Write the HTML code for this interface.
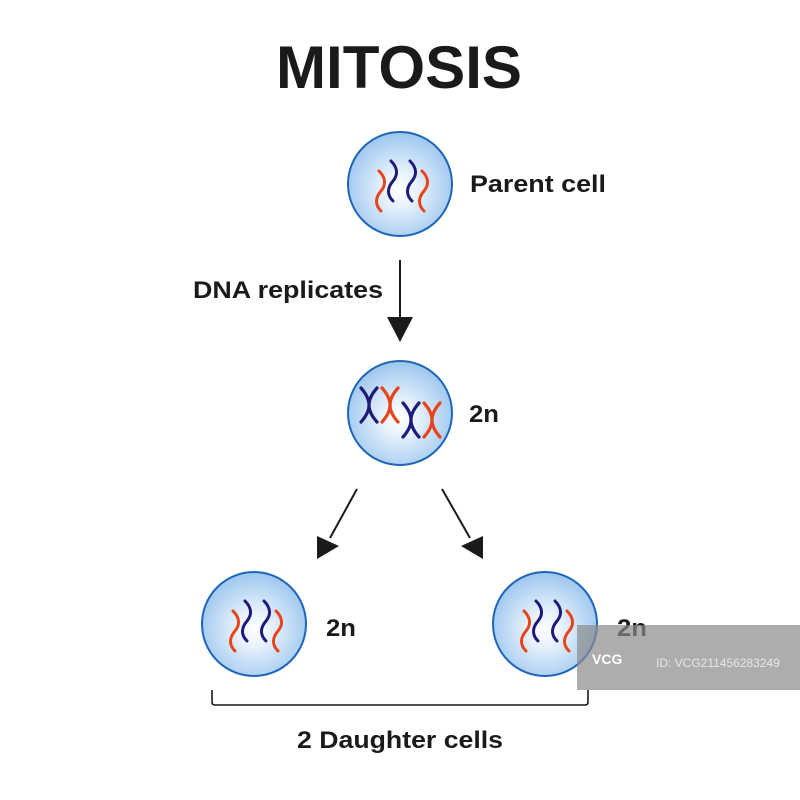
<!DOCTYPE html>
<html><head><meta charset="utf-8"><style>body{margin:0;background:#fff}svg{display:block}text{font-family:"Liberation Sans",sans-serif;font-weight:bold;fill:#1a1a1a}</style></head><body>
<svg width="800" height="800" viewBox="0 0 800 800">
<defs>
<radialGradient id="g" cx="50%" cy="55%" r="55%"><stop offset="0" stop-color="#ffffff"/><stop offset="0.3" stop-color="#e8f2fc"/><stop offset="1" stop-color="#9cc6ef"/></radialGradient>
<path id="s" d="M0,-20 C7,-13 7,-6 2,0 C-4,7 -4,14 2,20" fill="none" stroke-width="3" stroke-linecap="round"/>
<path id="x" d="M-8,-17 Q0,-8 0,0 Q0,8 -8,17 M8,-17 Q0,-8 0,0 Q0,8 8,17" fill="none" stroke-width="3.2" stroke-linecap="round"/>
<g id="chr">
<use href="#s" x="-21" y="7" stroke="#e8441a"/>
<use href="#s" x="-9" y="-3" stroke="#1d1a7a"/>
<use href="#s" x="10" y="-3" stroke="#1d1a7a"/>
<use href="#s" x="22" y="7" stroke="#e8441a"/>
</g>
</defs>
<text x="276" y="88" font-size="60" textLength="246" lengthAdjust="spacingAndGlyphs">MITOSIS</text>

<circle cx="400" cy="184" r="52" fill="url(#g)" stroke="#1f66b8" stroke-width="2"/>
<use href="#chr" x="400" y="184"/>
<text x="470" y="192" font-size="24" textLength="136" lengthAdjust="spacingAndGlyphs">Parent cell</text>

<line x1="400" y1="260" x2="400" y2="320" stroke="#1a1a1a" stroke-width="2"/>
<polygon points="387,317 413,317 400,342" fill="#1a1a1a"/>
<text x="193" y="298" font-size="24" textLength="190" lengthAdjust="spacingAndGlyphs">DNA replicates</text>

<circle cx="400" cy="413" r="52" fill="url(#g)" stroke="#1f66b8" stroke-width="2"/>
<use href="#x" x="369" y="405" stroke="#1d1a7a"/>
<use href="#x" x="390" y="405" stroke="#e8441a"/>
<use href="#x" x="411" y="420" stroke="#1d1a7a"/>
<use href="#x" x="432" y="420" stroke="#e8441a"/>
<text x="469" y="422" font-size="24" textLength="30" lengthAdjust="spacingAndGlyphs">2n</text>

<line x1="357" y1="489" x2="330" y2="538" stroke="#1a1a1a" stroke-width="2"/>
<polygon points="317,559 317,536 339,546" fill="#1a1a1a"/>
<line x1="442" y1="489" x2="470" y2="538" stroke="#1a1a1a" stroke-width="2"/>
<polygon points="483,559 483,536 461,546" fill="#1a1a1a"/>

<circle cx="254" cy="624" r="52" fill="url(#g)" stroke="#1f66b8" stroke-width="2"/>
<use href="#chr" x="254" y="624"/>
<text x="326" y="636" font-size="24" textLength="30" lengthAdjust="spacingAndGlyphs">2n</text>

<circle cx="545" cy="624" r="52" fill="url(#g)" stroke="#1f66b8" stroke-width="2"/>
<use href="#chr" x="545" y="624"/>
<text x="617" y="636" font-size="24" textLength="30" lengthAdjust="spacingAndGlyphs">2n</text>

<path d="M212,690 V702 Q212,705 215,705 H585 Q588,705 588,702 V690" fill="none" stroke="#1a1a1a" stroke-width="1.6"/>
<text x="297" y="748" font-size="24" textLength="206" lengthAdjust="spacingAndGlyphs">2 Daughter cells</text>

<rect x="577" y="625" width="223" height="65" fill="#8a8a8a" opacity="0.7"/>
<text x="592" y="664" font-size="14" style="fill:#fff">VCG</text>
<text x="656" y="667" font-size="12" style="fill:#e8e8e8;font-weight:normal">ID: VCG211456283249</text>
</svg>
</body></html>
